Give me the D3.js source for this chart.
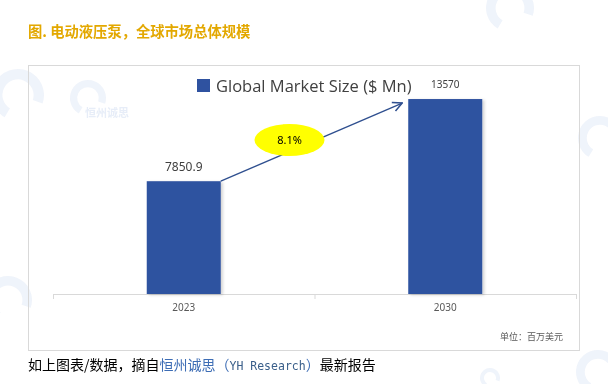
<!DOCTYPE html>
<html>
<head>
<meta charset="utf-8">
<script src="https://cdn.jsdelivr.net/npm/d3@7"></script>
<style>
  body { margin: 0; background: #fff; }
  svg { display: block; font-family: "Noto Sans CJK SC", "Noto Sans", sans-serif; }
</style>
</head>
<body>
<svg id="chart" width="608" height="384"></svg>
<script>
// data
var years = ['2023', '2030'];
var marketSize = [7850.9, 13570];
var valueLabels = ['7850.9', '13570'];
var cagrLabel = '8.1%';
var seriesName = 'Global Market Size ($ Mn)';
var yDomain = [0, 15000];

var svg = d3.select('#chart');

// faint watermarks
var wm = svg.append('g').attr('opacity', 0.08);
[[18, 95, 26], [88, 98, 18], [600, 138, 22], [8, 300, 24], [598, 372, 22], [510, 8, 24], [490, 378, 10]].forEach(function(p) {
    wm.append('path')
        .attr('d', d3.arc()({ innerRadius: p[2] * 0.6, outerRadius: p[2], startAngle: -2.6, endAngle: 1.9 }))
        .attr('transform', 'translate(' + p[0] + ',' + p[1] + ')')
        .attr('fill', '#3b6fc4');
});
svg.append('text').attr('x', 85).attr('y', 117).attr('font-size', 11).attr('font-weight', 'bold')
    .attr('fill', '#3b6fc4').attr('opacity', 0.12).text('恒州诚思');

// title
svg.append('text')
    .attr('x', 28).attr('y', 37)
    .attr('font-size', 14.3).attr('font-weight', 'bold')
    .attr('fill', '#e3a800')
    .text('图. 电动液压泵，全球市场总体规模');

// chart frame
svg.append('rect')
    .attr('x', 28.5).attr('y', 65.5).attr('width', 551).attr('height', 285)
    .attr('fill', 'none').attr('stroke', '#d9d9d9');

var x = d3.scaleBand().domain(years).range([53, 576]).padding(0);
var y = d3.scaleLinear().domain(yDomain).range([294, 78.5]);
var barW = x.bandwidth() * 0.283;

// axis
var xAxis = svg.append('g')
    .attr('transform', 'translate(0,294)')
    .call(d3.axisBottom(x).tickSize(0).tickPadding(10));
xAxis.select('.domain').attr('stroke', '#d9d9d9');
xAxis.selectAll('text').attr('font-size', 10).attr('fill', '#595959')
    .attr('font-family', '"Noto Sans", sans-serif');
// tick marks at band edges
var edges = [53].concat(years.map(function(d) { return x(d) + x.bandwidth(); }));
svg.append('g').selectAll('line').data(edges).enter().append('line')
    .attr('x1', function(d) { return d + 0.5; }).attr('x2', function(d) { return d + 0.5; })
    .attr('y1', 294).attr('y2', 299)
    .attr('stroke', '#d9d9d9');

// bars with soft shadow
var defs = svg.append('defs');
var f = defs.append('filter').attr('id', 'sh').attr('x', '-20%').attr('y', '-20%').attr('width', '140%').attr('height', '140%');
f.append('feDropShadow').attr('dx', 2).attr('dy', 1).attr('stdDeviation', 1.5)
    .attr('flood-color', '#000').attr('flood-opacity', 0.18);

svg.append('g').selectAll('rect')
    .data(marketSize).enter().append('rect')
    .attr('x', function(d, i) { return x(years[i]) + (x.bandwidth() - barW) / 2; })
    .attr('y', function(d) { return y(d); })
    .attr('width', barW)
    .attr('height', function(d) { return y(0) - y(d); })
    .attr('fill', '#2f52a0')
    .attr('filter', 'url(#sh)');

// value labels
svg.append('g').selectAll('text')
    .data(marketSize).enter().append('text')
    .attr('x', function(d, i) { return x(years[i]) + x.bandwidth() / 2; })
    .attr('y', function(d, i) { return y(d) - (i === 0 ? 10 : 11); })
    .attr('text-anchor', 'middle')
    .attr('font-size', function(d, i) { return i === 0 ? 12 : 10; })
    .attr('font-family', '"Noto Sans", sans-serif')
    .attr('fill', '#404040')
    .text(function(d, i) { return valueLabels[i]; });

// growth arrow
defs.append('marker').attr('id', 'arr')
    .attr('viewBox', '0 0 10 10').attr('refX', 9).attr('refY', 5)
    .attr('markerWidth', 9).attr('markerHeight', 9).attr('orient', 'auto')
    .append('path').attr('d', 'M1,1 L9,5 L1,9').attr('fill', 'none')
    .attr('stroke', '#2f4f8f').attr('stroke-width', 1.3);

var x0 = x(years[0]) + (x.bandwidth() + barW) / 2;
var y0 = y(marketSize[0]);
var x1 = x(years[1]) + (x.bandwidth() - barW) / 2 - 6;
var y1 = y(marketSize[1]) + 4;
svg.append('line')
    .attr('x1', x0).attr('y1', y0).attr('x2', x1).attr('y2', y1)
    .attr('stroke', '#2f4f8f').attr('stroke-width', 1.3)
    .attr('marker-end', 'url(#arr)');

var ex = (x0 + x1) / 2 - 22, ey = 140;
svg.append('ellipse').attr('cx', ex).attr('cy', ey).attr('rx', 35).attr('ry', 16)
    .attr('fill', '#ffff00');
svg.append('text').attr('x', ex).attr('y', ey + 4)
    .attr('text-anchor', 'middle').attr('font-size', 11)
    .attr('font-family', '"Noto Sans", sans-serif')
    .attr('fill', '#000').text(cagrLabel);

// legend
svg.append('rect').attr('x', 197).attr('y', 79).attr('width', 13).attr('height', 13).attr('fill', '#2f52a0');
svg.append('text').attr('x', 216).attr('y', 92)
    .attr('font-size', 16.5).attr('font-family', '"Open Sans", "Noto Sans", sans-serif')
    .attr('fill', '#404040').text(seriesName);

// unit
svg.append('text').attr('x', 563).attr('y', 340).attr('text-anchor', 'end')
    .attr('font-size', 9).attr('fill', '#595959').text('单位：百万美元');

// footer
var ft = svg.append('text').attr('x', 28).attr('y', 370).attr('font-size', 14).attr('fill', '#000');
ft.append('tspan').text('如上图表/数据，摘自');
ft.append('tspan').attr('fill', '#3d6db5').text('恒州诚思');
ft.append('tspan').attr('fill', '#3d6db5').text('（');
ft.append('tspan').attr('fill', '#3a5f8a').attr('font-size', 11.5)
    .attr('font-family', '"DejaVu Sans Mono", monospace').text('YH Research');
ft.append('tspan').attr('fill', '#3d6db5').text('）');
ft.append('tspan').text('最新报告');
</script>
</body>
</html>
